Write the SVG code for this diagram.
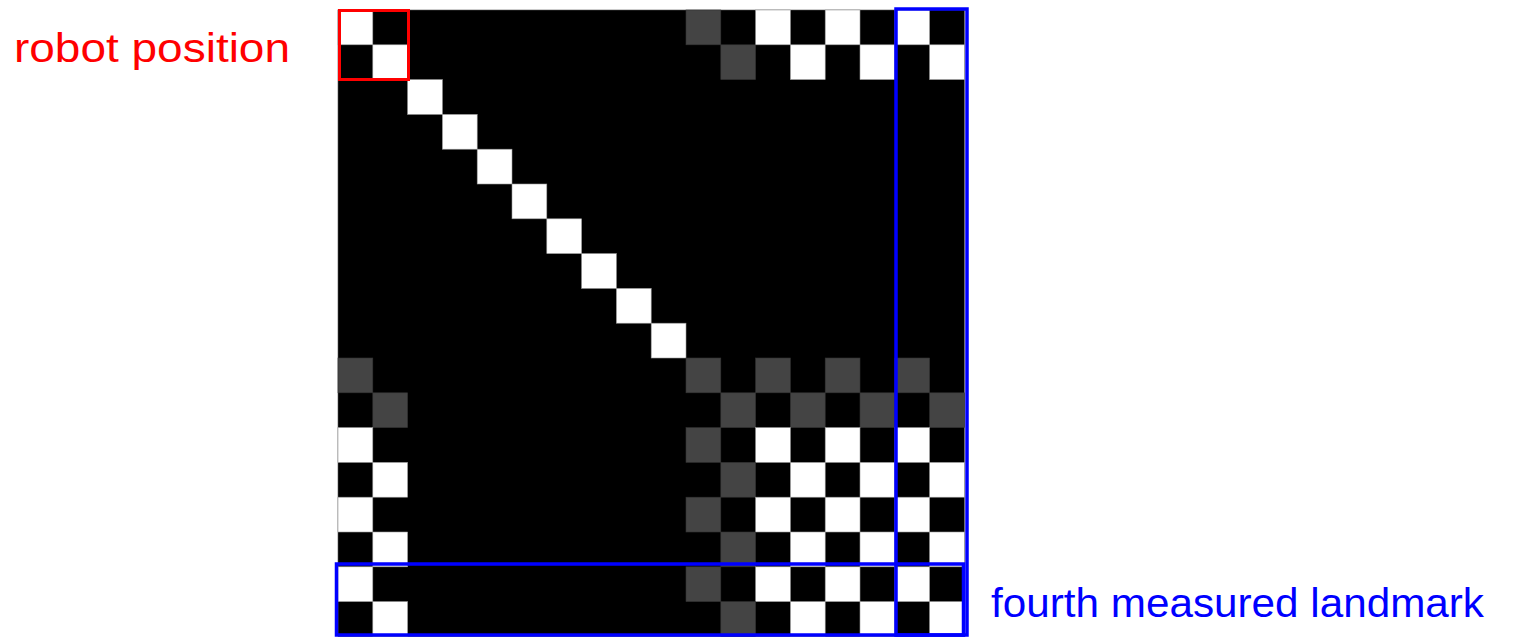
<svg xmlns="http://www.w3.org/2000/svg" width="1528" height="637" viewBox="0 0 1528 637">
<style>
.w{fill:#ffffff;stroke:#9a9a9a;stroke-width:0.6}
.g{fill:#444444;stroke:#333333;stroke-width:0.6}
.lbl{font-family:"Liberation Sans",Arial,sans-serif;font-size:40px}
</style>
<defs>
<rect id="c" width="34.8" height="34.8"/>
</defs>
<rect width="1528" height="637" fill="#ffffff"/>
<g id="matrix">
<rect x="338" y="10" width="626.4" height="626.4" fill="#000000" stroke="#555" stroke-width="0.6"/>
<!-- row 0 -->
<use href="#c" class="w" x="338" y="10"/>
<use href="#c" class="g" x="686" y="10"/>
<use href="#c" class="w" x="755.6" y="10"/>
<use href="#c" class="w" x="825.2" y="10"/>
<use href="#c" class="w" x="894.8" y="10"/>
<!-- row 1 -->
<use href="#c" class="w" x="372.8" y="44.8"/>
<use href="#c" class="g" x="720.8" y="44.8"/>
<use href="#c" class="w" x="790.4" y="44.8"/>
<use href="#c" class="w" x="860" y="44.8"/>
<use href="#c" class="w" x="929.6" y="44.8"/>
<!-- diagonal rows 2-9 -->
<use href="#c" class="w" x="407.6" y="79.6"/>
<use href="#c" class="w" x="442.4" y="114.4"/>
<use href="#c" class="w" x="477.2" y="149.2"/>
<use href="#c" class="w" x="512" y="184"/>
<use href="#c" class="w" x="546.8" y="218.8"/>
<use href="#c" class="w" x="581.6" y="253.6"/>
<use href="#c" class="w" x="616.4" y="288.4"/>
<use href="#c" class="w" x="651.2" y="323.2"/>
<!-- row 10 -->
<use href="#c" class="g" x="338" y="358"/>
<use href="#c" class="g" x="686" y="358"/>
<use href="#c" class="g" x="755.6" y="358"/>
<use href="#c" class="g" x="825.2" y="358"/>
<use href="#c" class="g" x="894.8" y="358"/>
<!-- row 11 -->
<use href="#c" class="g" x="372.8" y="392.8"/>
<use href="#c" class="g" x="720.8" y="392.8"/>
<use href="#c" class="g" x="790.4" y="392.8"/>
<use href="#c" class="g" x="860" y="392.8"/>
<use href="#c" class="g" x="929.6" y="392.8"/>
<!-- row 12 -->
<use href="#c" class="w" x="338" y="427.6"/>
<use href="#c" class="g" x="686" y="427.6"/>
<use href="#c" class="w" x="755.6" y="427.6"/>
<use href="#c" class="w" x="825.2" y="427.6"/>
<use href="#c" class="w" x="894.8" y="427.6"/>
<!-- row 13 -->
<use href="#c" class="w" x="372.8" y="462.4"/>
<use href="#c" class="g" x="720.8" y="462.4"/>
<use href="#c" class="w" x="790.4" y="462.4"/>
<use href="#c" class="w" x="860" y="462.4"/>
<use href="#c" class="w" x="929.6" y="462.4"/>
<!-- row 14 -->
<use href="#c" class="w" x="338" y="497.2"/>
<use href="#c" class="g" x="686" y="497.2"/>
<use href="#c" class="w" x="755.6" y="497.2"/>
<use href="#c" class="w" x="825.2" y="497.2"/>
<use href="#c" class="w" x="894.8" y="497.2"/>
<!-- row 15 -->
<use href="#c" class="w" x="372.8" y="532"/>
<use href="#c" class="g" x="720.8" y="532"/>
<use href="#c" class="w" x="790.4" y="532"/>
<use href="#c" class="w" x="860" y="532"/>
<use href="#c" class="w" x="929.6" y="532"/>
<!-- row 16 -->
<use href="#c" class="w" x="338" y="566.8"/>
<use href="#c" class="g" x="686" y="566.8"/>
<use href="#c" class="w" x="755.6" y="566.8"/>
<use href="#c" class="w" x="825.2" y="566.8"/>
<use href="#c" class="w" x="894.8" y="566.8"/>
<!-- row 17 -->
<use href="#c" class="w" x="372.8" y="601.6"/>
<use href="#c" class="g" x="720.8" y="601.6"/>
<use href="#c" class="w" x="790.4" y="601.6"/>
<use href="#c" class="w" x="860" y="601.6"/>
<use href="#c" class="w" x="929.6" y="601.6"/>
</g>
<g id="robot-position">
<rect x="339.5" y="10.5" width="69" height="69" fill="none" stroke="#ff0000" stroke-width="3"/>
<text class="lbl" x="14" y="61.5" fill="#ff0000" textLength="276" lengthAdjust="spacingAndGlyphs">robot position</text>
</g>
<g id="fourth-landmark">
<rect x="896" y="9" width="71" height="626" fill="none" stroke="#0000ff" stroke-width="3.5"/>
<rect x="336.5" y="564" width="627" height="71" fill="none" stroke="#0000ff" stroke-width="3.5"/>
<text class="lbl" x="991" y="616.5" fill="#0000ff" textLength="493" lengthAdjust="spacingAndGlyphs">fourth measured landmark</text>
</g>
<g id="connectors"/>
</svg>
